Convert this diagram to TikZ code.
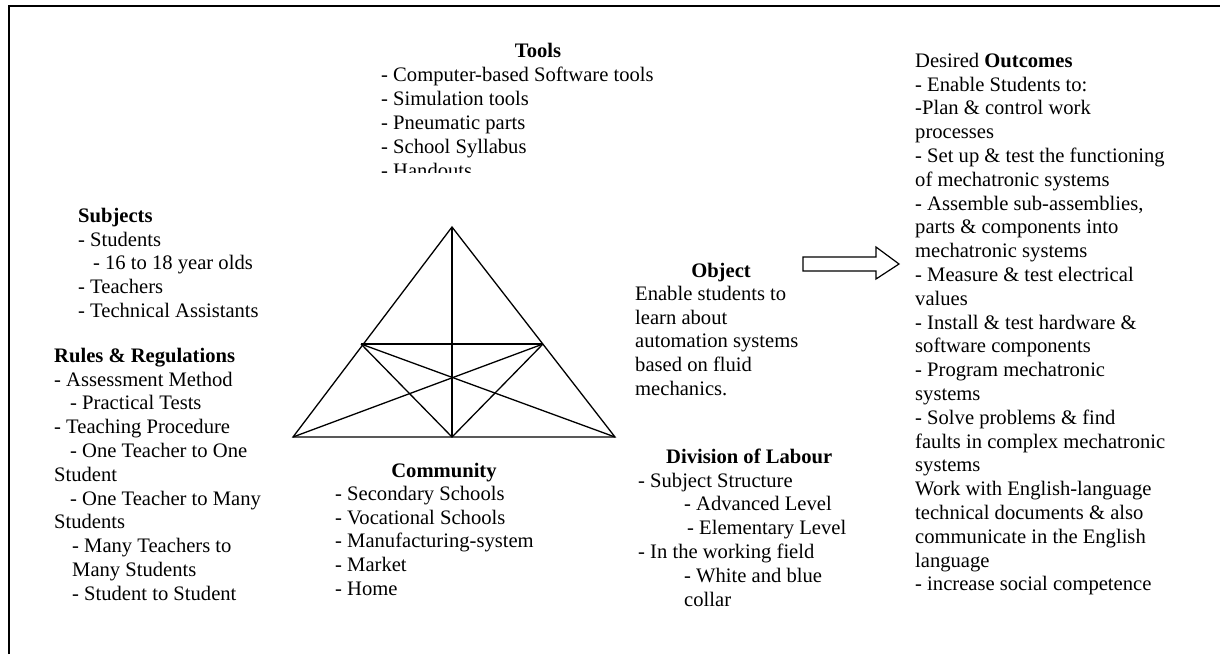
\documentclass[tikz,border=0pt]{standalone}
\usepackage{fontspec}
\setmainfont{Liberation Serif}
\begin{document}
\begin{tikzpicture}[x=1pt,y=-1pt,
  txt/.style={anchor=north west,inner sep=0pt,align=left,yshift=16.66pt,font=\fontsize{20.6}{23.8}\selectfont},
  ttl/.style={anchor=base,inner sep=0pt,font=\fontsize{20.6}{23.8}\selectfont\bfseries},
  edgeline/.style={line width=1.3pt},
  frame/.style={line width=2pt},
  blockarrow/.style={line width=1.2pt,line join=miter}]
\useasboundingbox (0,0) rectangle (1220,654);
% frame
\draw[frame] (9,654) -- (9,6) -- (1220,6);
% triangle
\coordinate (A) at (452,227);
\coordinate (BL) at (293,437);
\coordinate (BR) at (615,437);
\coordinate (BM) at (452,437);
\coordinate (LM) at (361,344);
\coordinate (RM) at (543,344);
\draw[edgeline] (A) -- (BL) -- (BR) -- cycle;
\draw[edgeline] (A) -- (BM);
\draw[edgeline] (LM) -- (RM);
\draw[edgeline] (LM) -- (BM) -- (RM);
\draw[edgeline] (LM) -- (BR);
\draw[edgeline] (RM) -- (BL);
% tools
\node[ttl] (toolsT) at (538,57) {Tools};
\begin{scope}
\clip (370,20) rectangle (700,172);
\node[txt,font=\fontsize{20.6}{24}\selectfont] (tools) at (381,81) {\strut- Computer-based Software tools\\- Simulation tools\\- Pneumatic parts\\- School Syllabus\\- Handouts};
\end{scope}
% subjects
\node[txt] (subj) at (78,222) {\strut\textbf{Subjects}\\- Students\\\hspace*{15pt}- 16 to 18 year olds\\- Teachers\\- Technical Assistants};
% rules
\node[txt] (rules) at (54,362) {\strut\textbf{Rules \& Regulations}\\- Assessment Method\\\hspace*{16pt}- Practical Tests\\- Teaching Procedure\\\hspace*{16pt}- One Teacher to One\\Student\\\hspace*{16pt}- One Teacher to Many\\Students\\\hspace*{18pt}- Many Teachers to\\\hspace*{18pt}Many Students\\\hspace*{18pt}- Student to Student};
% object
\node[ttl] (objT) at (721,277) {Object};
\node[txt] (obj) at (635,300) {\strut Enable students to\\learn about\\automation systems\\based on fluid\\mechanics.};
% community
\node[ttl] (comT) at (444,477) {Community};
\node[txt] (com) at (335,500) {\strut- Secondary Schools\\- Vocational Schools\\- Manufacturing-system\\- Market\\- Home};
% division of labour
\node[txt] (div) at (638,463) {\strut\hspace*{28pt}\textbf{Division of Labour}\\- Subject Structure\\\hspace*{46pt}- Advanced Level\\\hspace*{49pt}- Elementary Level\\- In the working field\\\hspace*{46pt}- White and blue\\\hspace*{46pt}collar};
% outcomes
\node[txt] (out) at (915,67) {\strut Desired \textbf{Outcomes}\\- Enable Students to:\\-Plan \& control work\\processes\\- Set up \& test the functioning\\of mechatronic systems\\- Assemble sub-assemblies,\\parts \& components into\\mechatronic systems\\- Measure \& test electrical\\values\\- Install \& test hardware \&\\software components\\- Program mechatronic\\systems\\- Solve problems \& find\\faults in complex mechatronic\\systems\\Work with English-language\\technical documents \& also\\communicate in the English\\language\\- increase social competence};
% block arrow
\draw[blockarrow] (803,257) -- (876,257) -- (876,247) -- (899,264) -- (876,279) -- (876,271) -- (803,271) -- cycle;
\end{tikzpicture}
\end{document}
